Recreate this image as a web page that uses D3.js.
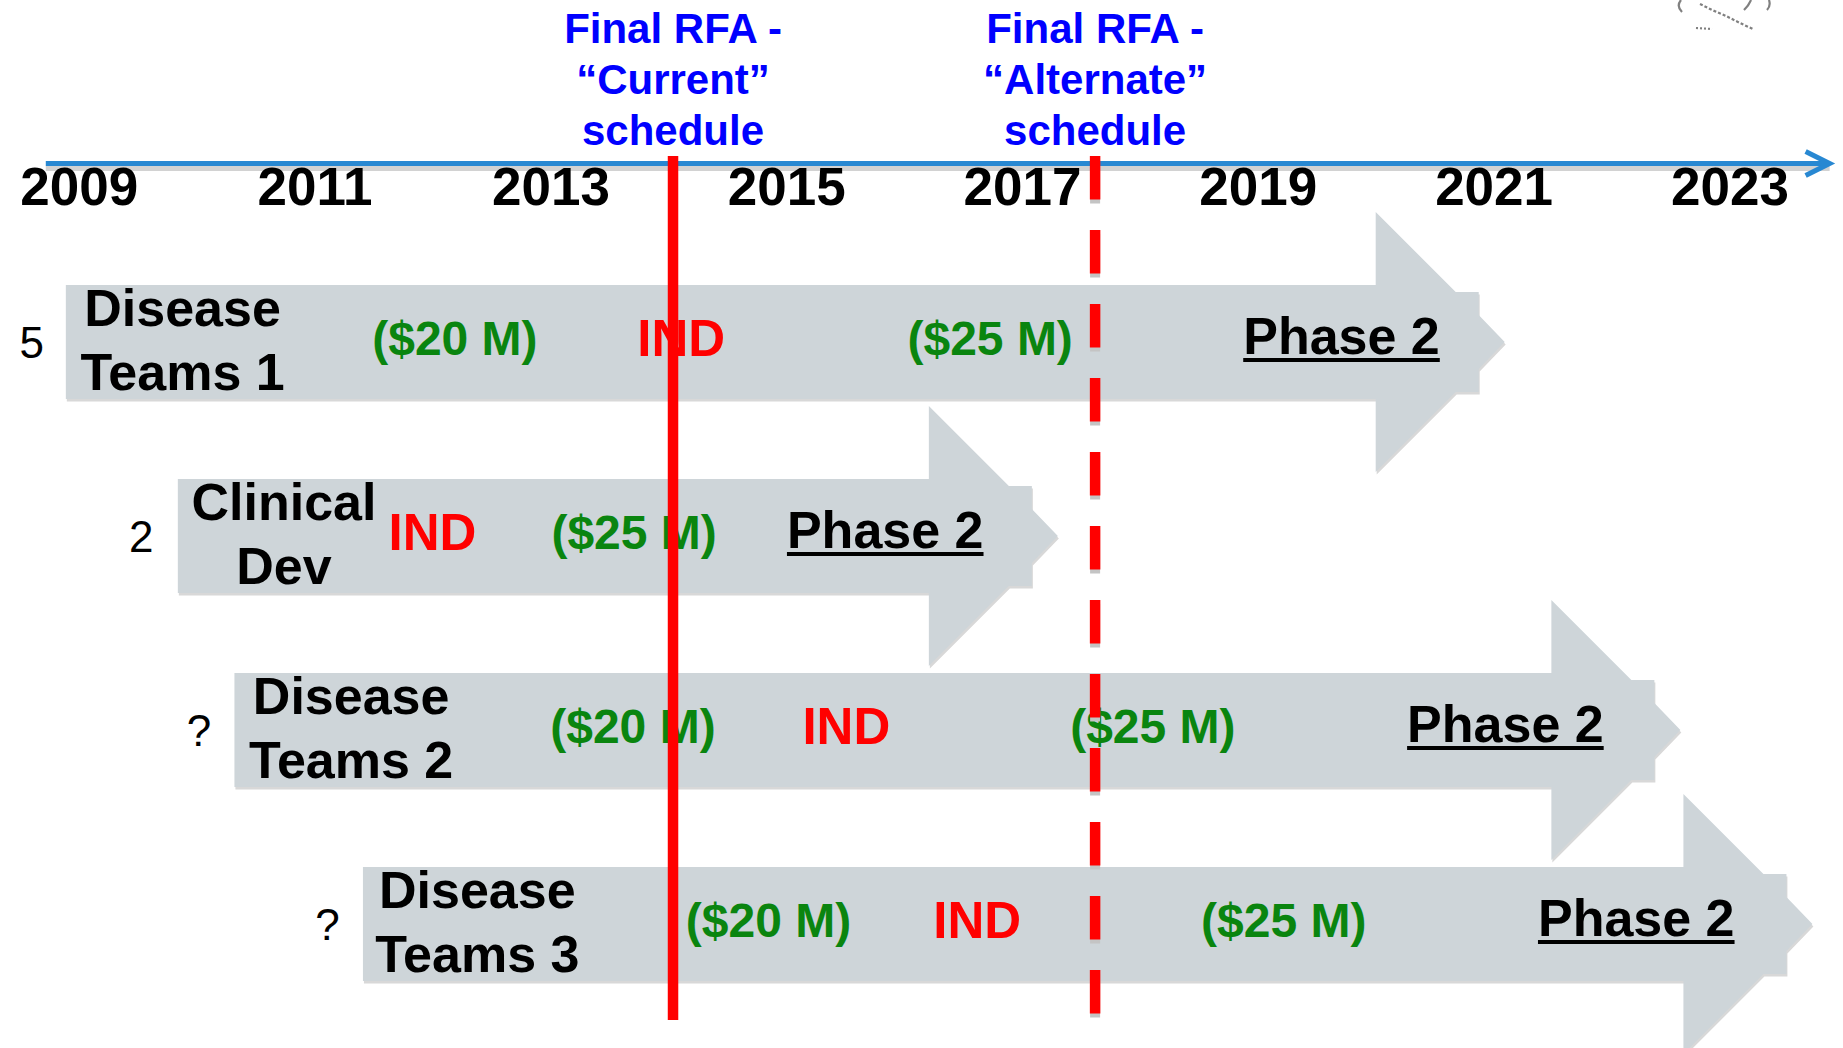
<!DOCTYPE html>
<html>
<head>
<meta charset="utf-8">
<script src="https://cdn.jsdelivr.net/npm/d3@7"></script>
<style>
  body { margin: 0; background: #fff; }
  svg { display: block; }
</style>
</head>
<body>
<div class="chart"></div>
<script>
// timeline values
var yearTicks = [2009, 2011, 2013, 2015, 2017, 2019, 2021, 2023];

var rowNames = ["Disease Teams 1", "Clinical Dev", "Disease Teams 2", "Disease Teams 3"];
var rowLabelLines = [["Disease", "Teams 1"], ["Clinical", "Dev"], ["Disease", "Teams 2"], ["Disease", "Teams 3"]];
var rowCounts = ["5", "2", "?", "?"];
var labelYear = [2009.88, 2010.74, 2011.31, 2012.38];
var countYear = [2008.60, 2009.53, 2010.02, 2011.11];

// arrow body start and arrow head start (years)
var barStart = [2008.89, 2009.84, 2010.32, 2011.41];
var headStart = [2020.00, 2016.21, 2021.49, 2022.61];

// milestones inside each arrow: [row, year, text]
var amounts = [
  [0, 2012.19, "($20 M)"], [0, 2016.73, "($25 M)"],
  [1, 2013.71, "($25 M)"],
  [2, 2013.70, "($20 M)"], [2, 2018.11, "($25 M)"],
  [3, 2014.85, "($20 M)"], [3, 2019.22, "($25 M)"]
];
var indYear = [2014.11, 2012.00, 2015.51, 2016.62];
var phase2Year = [2019.71, 2015.84, 2021.10, 2022.21];

// RFA schedules
var scheduleYear = [2014.04, 2017.62];
var scheduleLines = [["Final RFA -", "\u201CCurrent\u201D", "schedule"], ["Final RFA -", "\u201CAlternate\u201D", "schedule"]];
var scheduleDashed = [false, true];

var svgWidth = 1843;
var svgHeight = 1048;
var FONT = "'Liberation Sans', Arial, sans-serif";

var svg = d3.select(".chart")
  .append("svg")
  .attr("width", svgWidth)
  .attr("height", svgHeight);

svg.append("rect").attr("width", svgWidth).attr("height", svgHeight).attr("fill", "#fff");

var x = d3.scaleLinear().domain([2009, 2023]).range([78.8, 1729.4]);
var y = d3.scalePoint().domain(rowNames).range([342, 924]);

// faint leftover logo in the corner
var logo = svg.append("g").attr("fill", "none").attr("stroke", "#808080").attr("stroke-width", 2.2);
logo.append("path").attr("d", "M1681,0 Q1676,6 1682,12");
logo.append("path").attr("d", "M1744,10 Q1749,5 1751,0");
logo.append("path").attr("d", "M1769,0 Q1771,6 1767,10");
logo.append("path").attr("d", "M1700,4 L1712,10 L1726,16 L1740,23 L1753,29").attr("stroke-dasharray", "3,2");
logo.append("path").attr("d", "M1696,28 L1712,29").attr("stroke-dasharray", "2,2");

// timeline axis line with shadow and open arrow head
var axisY = 163.5;
svg.append("line")
  .attr("x1", x(2008.72)).attr("x2", x(2023.85))
  .attr("y1", axisY + 5).attr("y2", axisY + 5)
  .attr("stroke", "#d2d2d2").attr("stroke-width", 5);
svg.append("line")
  .attr("x1", x(2008.72)).attr("x2", x(2023.85))
  .attr("y1", axisY).attr("y2", axisY)
  .attr("stroke", "#2888d2").attr("stroke-width", 5);
svg.append("path")
  .attr("d", "M" + (x(2023.85) - 24) + "," + (axisY - 12) + " L" + x(2023.85) + "," + axisY + " L" + (x(2023.85) - 24) + "," + (axisY + 12))
  .attr("fill", "none").attr("stroke", "#2888d2").attr("stroke-width", 5);

// year labels through a d3 axis
var xAxis = d3.axisBottom(x).tickValues(yearTicks).tickSize(0).tickFormat(d3.format("d"));
svg.append("g")
  .attr("class", "x-axis")
  .attr("transform", "translate(0,205)")
  .call(xAxis)
  .call(function(g) { g.select(".domain").remove(); })
  .selectAll("text")
  .attr("y", 0).attr("dy", 0)
  .attr("font-family", FONT)
  .attr("font-weight", "bold")
  .attr("font-size", 53)
  .attr("fill", "#000");

// block arrows
function arrowPoints(i) {
  var c = y(rowNames[i]);
  var x0 = x(barStart[i]);
  var b = x(headStart[i]);
  return [[x0, c - 57], [b, c - 57], [b, c - 130], [b + 80, c - 50], [b + 103, c - 50],
          [b + 103, c - 27], [b + 129, c], [b + 103, c + 27], [b + 103, c + 50],
          [b + 80, c + 50], [b, c + 130], [b, c + 57], [x0, c + 57]];
}

var arrows = svg.append("g");
rowNames.forEach(function(name, i) {
  var pts = arrowPoints(i);
  arrows.append("polygon")
    .attr("points", pts.map(function(p) { return (p[0] + 1) + "," + (p[1] + 2.5); }).join(" "))
    .attr("fill", "#d8d8d8");
  arrows.append("polygon")
    .attr("points", pts.map(function(p) { return p.join(","); }).join(" "))
    .attr("fill", "#ced5d9");
});

var labels = svg.append("g").attr("font-family", FONT).attr("text-anchor", "middle");

rowNames.forEach(function(name, i) {
  var c = y(name);
  // row label (two lines)
  labels.append("text").attr("x", x(labelYear[i])).attr("y", c - 16)
    .attr("font-weight", "bold").attr("font-size", 52).text(rowLabelLines[i][0]);
  labels.append("text").attr("x", x(labelYear[i])).attr("y", c + 48)
    .attr("font-weight", "bold").attr("font-size", 52).text(rowLabelLines[i][1]);
  // count
  labels.append("text").attr("x", x(countYear[i])).attr("y", c + 16)
    .attr("font-size", 44).text(rowCounts[i]);
  // IND
  labels.append("text").attr("x", x(indYear[i])).attr("y", c + 14)
    .attr("font-weight", "bold").attr("font-size", 51).attr("fill", "#ff0000").text("IND");
  // Phase 2 underlined
  var ph = labels.append("text").attr("x", x(phase2Year[i])).attr("y", c + 12)
    .attr("font-weight", "bold").attr("font-size", 52).text("Phase 2");
  var w = ph.node().getComputedTextLength();
  labels.append("rect")
    .attr("x", x(phase2Year[i]) - w / 2).attr("y", c + 16)
    .attr("width", w).attr("height", 4).attr("fill", "#000");
});

amounts.forEach(function(a) {
  labels.append("text")
    .attr("x", x(a[1])).attr("y", y(rowNames[a[0]]) + 13)
    .attr("font-weight", "bold").attr("font-size", 48)
    .attr("fill", "#0a850f")
    .text(a[2]);
});

// schedule lines and captions
scheduleYear.forEach(function(yr, i) {
  var cx = x(yr);
  var line = svg.append("g");
  if (scheduleDashed[i]) {
    line.append("line")
      .attr("x1", cx).attr("x2", cx).attr("y1", 156 + 4).attr("y2", 1020 + 4)
      .attr("stroke", "#c4c4c4").attr("stroke-width", 10)
      .attr("stroke-dasharray", "43.5,30.5");
  }
  line.append("line")
    .attr("x1", cx).attr("x2", cx).attr("y1", 156).attr("y2", 1020)
    .attr("stroke", "#ff0000").attr("stroke-width", 10.5)
    .attr("stroke-dasharray", scheduleDashed[i] ? "43.5,30.5" : null);

  scheduleLines[i].forEach(function(t, k) {
    svg.append("text")
      .attr("x", cx).attr("y", [43, 94, 145][k])
      .attr("text-anchor", "middle")
      .attr("font-family", FONT).attr("font-weight", "bold").attr("font-size", 42)
      .attr("fill", "#0000ff")
      .text(t);
  });
});
</script>
</body>
</html>
